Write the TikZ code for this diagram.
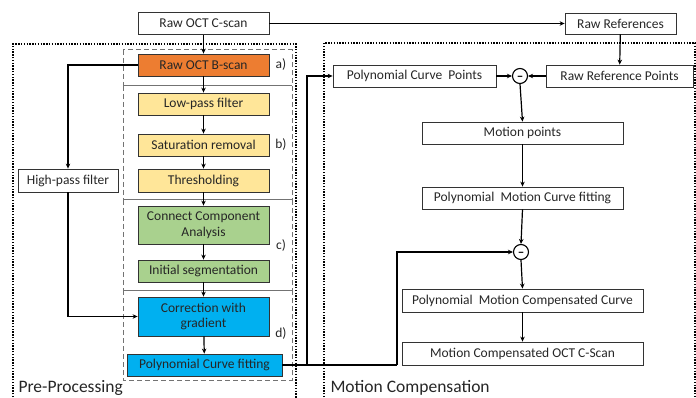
\documentclass[tikz,border=0pt]{standalone}
\usepackage{fontspec}
\setmainfont{Carlito}
\usetikzlibrary{arrows.meta,calc}
\definecolor{orng}{HTML}{ED7D31}
\definecolor{ylw}{HTML}{FFE699}
\definecolor{grn}{HTML}{A9D18E}
\definecolor{blu}{HTML}{00B0F0}
\tikzset{
  box/.style={draw=black!80, line width=0.8pt, inner sep=0pt, align=center,
    text=black!85, font=\fontsize{13.5}{15.5}\selectfont},
  arr/.style={line width=1.2pt, -{Stealth[length=5pt,width=4.5pt]}},
  ln/.style={line width=1.2pt},
  dotbox/.style={line width=1.6pt, dash pattern=on 1.4pt off 1.4pt},
  dashbox/.style={draw=black!55, line width=1pt, dash pattern=on 5pt off 3pt},
  lab/.style={text=black!85, font=\fontsize{13.5}{15.5}\selectfont},
  big/.style={text=black!85, font=\fontsize{17.5}{20}\selectfont, anchor=west},
  sumc/.style={circle, draw=black, line width=1.1pt, minimum size=15pt, inner sep=0pt},
  minus/.style={text=black, font=\fontsize{13}{14}\bfseries\selectfont, inner sep=0pt}
}
\begin{document}
\begin{tikzpicture}[x=1pt,y=-1pt]
\useasboundingbox (0,0) rectangle (696,398);
% dotted frames
\draw[dotbox] (13,400) -- (13,44) -- (296,44) -- (296,400);
\draw[dotbox] (324,400) -- (324,43) -- (695,43) -- (695,400);
% dashed stage boxes
\draw[dashbox] (123,50) rectangle (292,86);
\draw[dashbox] (123,86) rectangle (292,200);
\draw[dashbox] (123,200) rectangle (292,290);
\draw[dashbox] (123,290) rectangle (292,380);
\node[lab] (la) at (281,65) {a)};
\node[lab] (lb) at (281,145) {b)};
\node[lab] (lc) at (281,245) {c)};
\node[lab] (ld) at (281,333) {d)};
% left column nodes
\node[box, minimum width=131pt, minimum height=22pt] (cscan) at (203.5,23.5) {Raw OCT C-scan};
\node[box, fill=orng, minimum width=131pt, minimum height=22pt] (bscan) at (203.5,65) {Raw OCT B-scan};
\node[box, fill=ylw, minimum width=131pt, minimum height=22pt] (lowpass) at (203.5,104) {Low-pass filter};
\node[box, fill=ylw, minimum width=131pt, minimum height=22pt] (satur) at (203.5,145) {Saturation removal};
\node[box, fill=ylw, minimum width=131pt, minimum height=23pt] (thresh) at (203.5,180.5) {Thresholding};
\node[box, minimum width=100pt, minimum height=23pt] (highpass) at (68,180.5) {High-pass filter};
\node[box, fill=grn, minimum width=131pt, minimum height=38pt] (cca) at (203.5,225) {Connect Component\\Analysis};
\node[box, fill=grn, minimum width=131pt, minimum height=22pt] (initseg) at (203.5,271) {Initial segmentation};
\node[box, fill=blu, minimum width=131pt, minimum height=39pt] (corr) at (203.5,316.5) {Correction with\\gradient};
\node[box, fill=blu, minimum width=155pt, minimum height=22pt] (polyfit) at (204.5,365) {Polynomial Curve fitting};
% right column nodes
\node[box, minimum width=111pt, minimum height=21pt] (rawref) at (620.5,23.5) {Raw References};
\node[box, minimum width=147pt, minimum height=22pt] (rawrefpts) at (619.5,76) {Raw Reference Points};
\node[box, minimum width=163pt, minimum height=22pt] (polypts) at (414.5,76) {Polynomial Curve\ \ Points};
\node[sumc] (c1) at (520,76) {};
\node[minus] (m1) at (520,78) {–};
\node[box, minimum width=201pt, minimum height=22pt] (motionpts) at (522.5,133) {Motion points};
\node[box, minimum width=201pt, minimum height=22pt] (pmcf) at (522.5,198) {Polynomial\ \ Motion Curve fitting};
\node[sumc] (c2) at (521,252) {};
\node[minus] (m2) at (521,254) {–};
\node[box, minimum width=241pt, minimum height=23pt] (pmcc) at (522.5,300.5) {Polynomial\ \ Motion Compensated Curve};
\node[box, minimum width=241pt, minimum height=23pt] (mcoct) at (522.5,353.5) {Motion Compensated OCT C-Scan};
% labels
\node[big] (pp) at (15,388) {Pre-Processing};
\node[big] (mc) at (327,388) {Motion Compensation};
% connectors, left
\draw[arr] (cscan) -- (bscan);
\draw[arr] (bscan) -- (lowpass);
\draw[arr] (lowpass) -- (satur);
\draw[arr] (satur) -- (thresh);
\draw[arr] (thresh) -- (cca);
\draw[arr] (cca) -- (initseg);
\draw[arr] (initseg) -- (corr);
\draw[arr] (corr) -- (polyfit);
\draw[arr] (bscan.west) -| (highpass.north);
\draw[arr] (highpass.south) |- (corr.west);
% connectors, right
\draw[arr] (cscan.east) -- (rawref.west);
\draw[arr] (rawref) -- (rawrefpts);
\draw[arr] (polypts.east) -- (c1.west);
\draw[arr] (rawrefpts.west) -- (c1.east);
\draw[arr] (c1.south) -- (motionpts.north);
\draw[arr] (motionpts) -- (pmcf);
\draw[arr] (pmcf.south) -- (c2.north);
\draw[arr] (c2.south) -- (pmcc.north);
\draw[arr] (pmcc) -- (mcoct);
\coordinate (j) at (307,365);
\coordinate (k) at (397,365);
\draw[ln] (polyfit.east) -- (k);
\draw[arr] (k) |- (c2.west);
\draw[arr] (j) |- (polypts.west);
\end{tikzpicture}
\end{document}
